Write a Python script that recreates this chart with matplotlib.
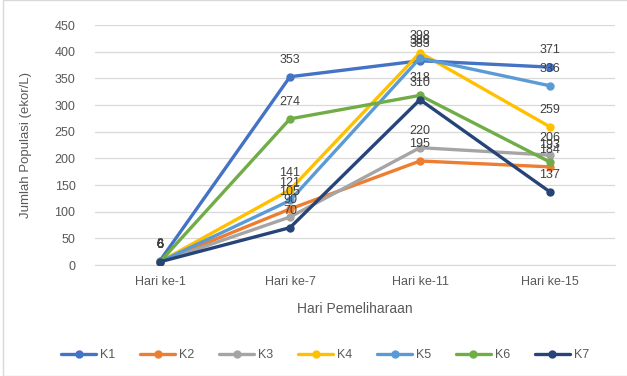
import matplotlib
matplotlib.use("Agg")
import matplotlib.pyplot as plt
from matplotlib.patches import Rectangle

days = ["Hari ke-1", "Hari ke-7", "Hari ke-11", "Hari ke-15"]
series_names = ["K1", "K2", "K3", "K4", "K5", "K6", "K7"]
K1 = [8, 353, 383, 371]
K2 = [6, 105, 195, 184]
K3 = [6, 90, 220, 206]
K4 = [6, 141, 398, 259]
K5 = [6, 121, 388, 336]
K6 = [6, 274, 318, 193]
K7 = [6, 70, 310, 137]
values = [K1, K2, K3, K4, K5, K6, K7]
colors = ["#4472C4", "#ED7D31", "#A5A5A5", "#FFC000", "#5B9BD5", "#70AD47", "#264478"]
y_ticks = [0, 50, 100, 150, 200, 250, 300, 350, 400, 450]

plt.rcParams["font.family"] = ["Liberation Sans", "DejaVu Sans"]
text_color = "#595959"

fig = plt.figure(figsize=(6.27, 3.76), dpi=100)
ax = fig.add_axes([95 / 627, 1 - 265 / 376, 520 / 627, 240 / 376])

x = list(range(len(days)))
for name, vals, c in zip(series_names, values, colors):
    ax.plot(x, vals, color=c, lw=2.4, marker="o", ms=5, label=name,
            solid_capstyle="round", zorder=3)
    for xi, v in zip(x, vals):
        ax.annotate(str(v), (xi, v), xytext=(0, 8), textcoords="offset points",
                    ha="center", va="bottom", fontsize=9, color="#404040", zorder=4)

ax.set_xlim(-0.5, len(days) - 0.5)
ax.set_ylim(0, 450)
ax.set_yticks(y_ticks)
ax.set_xticks(x)
ax.set_xticklabels(days)
ax.grid(axis="y", color="#D9D9D9", lw=0.9, zorder=0)
ax.set_axisbelow(True)
for s in ["top", "right", "left"]:
    ax.spines[s].set_visible(False)
ax.spines["bottom"].set_color("#D9D9D9")
ax.tick_params(axis="both", length=0, labelsize=9, colors=text_color)
ax.tick_params(axis="x", pad=8)
ax.tick_params(axis="y", pad=14)

ax.set_xlabel("Hari Pemeliharaan", fontsize=10, color=text_color, labelpad=10)
ax.set_ylabel("Jumlah Populasi (ekor/L)", fontsize=9.5, color=text_color, labelpad=16)

leg = fig.legend(loc="center", bbox_to_anchor=(325 / 627, 1 - 355 / 376), ncol=7,
                 frameon=False, fontsize=9, handlelength=2.8, columnspacing=2.0,
                 handletextpad=0.3, labelcolor=text_color)

fig.patches.append(Rectangle((3 / 627, 0), 1, 1, transform=fig.transFigure,
                             fill=False, edgecolor="#D9D9D9", lw=1))

fig.savefig("out.png", dpi=100)
